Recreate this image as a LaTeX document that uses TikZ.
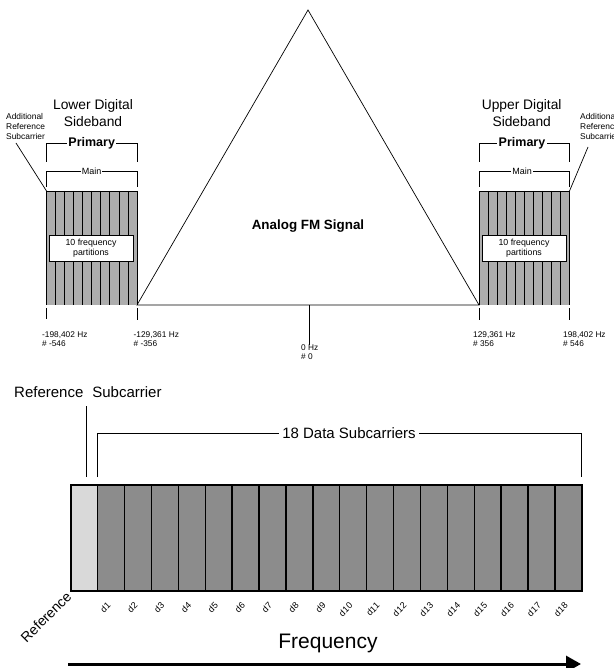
\documentclass[tikz,border=0pt]{standalone}
\usepackage{fontspec}
\setmainfont{Liberation Sans}
\usetikzlibrary{arrows.meta}
\definecolor{sideg}{HTML}{ADADAD}
\definecolor{datag}{HTML}{8C8C8C}
\definecolor{refg}{HTML}{D9D9D9}
\begin{document}
\begin{tikzpicture}[x=1pt,y=-1pt,
  small/.style={inner sep=0pt, font=\fontsize{8.3}{9}\selectfont},
  tiny/.style={inner sep=0pt, font=\fontsize{8.4}{10}\selectfont, align=left},
  sbtitle/.style={align=center, inner sep=0pt, font=\fontsize{13.8}{17}\selectfont},
  primlbl/.style={fill=white, inner xsep=1.5pt, inner ysep=0pt, font=\bfseries\fontsize{12.5}{14}\selectfont},
  mainlbl/.style={fill=white, inner xsep=1pt, inner ysep=0pt, font=\fontsize{9}{10}\selectfont},
  partbox/.style={draw, fill=white, line width=0.6pt, minimum width=84pt, minimum height=26pt, inner sep=0pt, align=center, font=\fontsize{8.8}{10}\selectfont},
  dlbl/.style={rotate=45, anchor=east, inner sep=0pt, font=\fontsize{9}{10}\selectfont},
  thinl/.style={line width=0.7pt}
]
\clip (0,0) rectangle (613,668);
\fill[white] (0,0) rectangle (613,668);

% ---------- Analog FM triangle ----------
\coordinate (tl) at (137,305);
\coordinate (tp) at (308,10);
\coordinate (tr) at (479,305);
\draw[thinl] (tl) -- (tp) -- (tr) -- cycle;
\node[inner sep=0pt, font=\bfseries\fontsize{13.4}{16}\selectfont] (fm) at (308,226) {Analog FM Signal};
\coordinate (c0) at (309,305);
\coordinate (c0b) at (309,345);
\draw[thinl] (c0) -- (c0b);
\node[small, anchor=base west] (hz0) at (301,350) {0 Hz};
\node[small, anchor=base west] (n0) at (301,359) {\# 0};

% ---------- Lower sideband ----------
\fill[sideg] (46.5,191) rectangle (137,305);
\foreach \i in {0,...,10} \draw[line width=0.8pt] (46.5+\i*9.05,191) -- (46.5+\i*9.05,305);
\draw[thinl] (46.5,191) -- (137,191);
\node[partbox] (lbox) at (91,248) {10 frequency\\partitions};
\node[sbtitle] (ltitle) at (93,113.5) {Lower Digital\\Sideband};
\coordinate (lp1) at (46.5,162); \coordinate (lp2) at (46.5,143);
\coordinate (lp3) at (137,143); \coordinate (lp4) at (137,162);
\draw[thinl] (lp1) -- (lp2) -- (lp3) -- (lp4);
\node[primlbl] (lprim) at (91.7,143) {Primary};
\coordinate (lm1) at (46.5,187); \coordinate (lm2) at (46.5,171);
\coordinate (lm3) at (137,171); \coordinate (lm4) at (137,187);
\draw[thinl] (lm1) -- (lm2) -- (lm3) -- (lm4);
\node[mainlbl] (lmain) at (91.7,171) {Main};
\node[tiny, anchor=west] (ladd) at (6,126) {Additional\\Reference\\Subcarrier};
\coordinate (laddp) at (16,143);
\coordinate (lcorner) at (46.5,191);
\draw[thinl] (laddp) -- (lcorner);
% ticks and labels
\coordinate (lt1a) at (46.5,308); \coordinate (lt1b) at (46.5,319);
\coordinate (lt2a) at (137,308); \coordinate (lt2b) at (137,320);
\draw[thinl] (lt1a) -- (lt1b);
\draw[thinl] (lt2a) -- (lt2b);
\node[small, anchor=base west] (f1) at (42,337) {-198,402 Hz};
\node[small, anchor=base west] (n1) at (42,346) {\# -546};
\node[small, anchor=base west] (f2) at (133.5,337) {-129,361 Hz};
\node[small, anchor=base west] (n2) at (133.5,346) {\# -356};

% ---------- Upper sideband ----------
\fill[sideg] (479,191) rectangle (569.5,305);
\foreach \i in {0,...,10} \draw[line width=0.8pt] (479+\i*9.05,191) -- (479+\i*9.05,305);
\draw[thinl] (479,191) -- (569.5,191);
\node[partbox] (rbox) at (524,248) {10 frequency\\partitions};
\node[sbtitle] (rtitle) at (521.7,113.5) {Upper Digital\\Sideband};
\coordinate (rp1) at (479,162); \coordinate (rp2) at (479,143);
\coordinate (rp3) at (569.5,143); \coordinate (rp4) at (569.5,162);
\draw[thinl] (rp1) -- (rp2) -- (rp3) -- (rp4);
\node[primlbl] (rprim) at (522,143) {Primary};
\coordinate (rm1) at (479,187); \coordinate (rm2) at (479,171);
\coordinate (rm3) at (569.5,171); \coordinate (rm4) at (569.5,187);
\draw[thinl] (rm1) -- (rm2) -- (rm3) -- (rm4);
\node[mainlbl] (rmain) at (522,171) {Main};
\node[tiny, anchor=west] (radd) at (580,126) {Additional\\Reference\\Subcarrier};
\coordinate (raddp) at (588,147);
\coordinate (rcorner) at (569.5,191);
\draw[thinl] (raddp) -- (rcorner);
\coordinate (rt1a) at (479,308); \coordinate (rt1b) at (479,320);
\coordinate (rt2a) at (569.5,308); \coordinate (rt2b) at (569.5,320);
\draw[thinl] (rt1a) -- (rt1b);
\draw[thinl] (rt2a) -- (rt2b);
\node[small, anchor=base west] (f3) at (473,337) {129,361 Hz};
\node[small, anchor=base west] (n3) at (473,346) {\# 356};
\node[small, anchor=base west] (f4) at (563,337) {198,402 Hz};
\node[small, anchor=base west] (n4) at (563,346) {\# 546};

% ---------- Bottom: subcarrier layout ----------
\node[inner sep=0pt, anchor=west, font=\fontsize{15}{18}\selectfont] (refsub) at (14,392) {Reference\hspace{0.6em}Subcarrier};
\coordinate (rs1) at (86,406); \coordinate (rs2) at (86,477);
\draw[thinl] (rs1) -- (rs2);
\coordinate (b1) at (97.3,477); \coordinate (b2) at (97.3,433);
\coordinate (b3) at (581.7,433); \coordinate (b4) at (581.7,477);
\draw[thinl] (b1) -- (b2) -- (b3) -- (b4);
\node[fill=white, inner xsep=3pt, inner ysep=0pt, font=\fontsize{15}{17}\selectfont] (data18) at (349,433) {18 Data Subcarriers};

\fill[refg] (70.7,485) rectangle (97.6,591);
\fill[datag] (97.6,485) rectangle (581.8,591);
\foreach \i in {1,...,18} \draw[line width=1.4pt] (70.7+\i*26.9,485) -- (70.7+\i*26.9,591);
\draw[line width=1.8pt] (70.7,485) rectangle (581.8,591);

\node[rotate=45, anchor=east, inner sep=0pt, font=\fontsize{14}{17}\selectfont] (reflbl) at (69,594) {Reference};
\foreach \i in {1,...,18} \node[dlbl] (d\i) at ({70.7+(\i+0.5)*26.9-2},604) {d\i};

\node[inner sep=0pt, font=\fontsize{21}{25}\selectfont] (freq) at (328,643) {Frequency};
\coordinate (fa) at (68,664);
\coordinate (fb) at (581,664);
\draw[line width=3pt, -{Triangle[length=15pt,width=16pt]}] (fa) -- (fb);
\end{tikzpicture}
\end{document}
